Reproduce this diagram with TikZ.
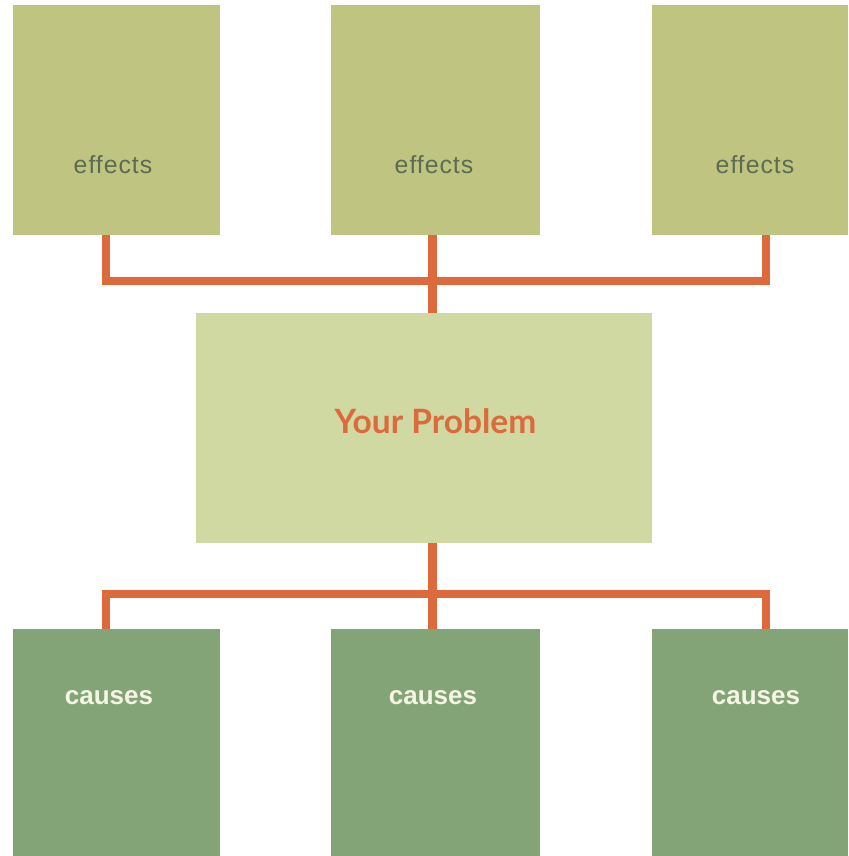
\documentclass[tikz,border=0pt]{standalone}
\usepackage{fontspec}
\setmainfont{Liberation Sans}
\newfontfamily\effectsfont[LetterSpace=4]{Liberation Sans}
\newfontfamily\probfont{Lato}
\definecolor{effectfill}{HTML}{BFC580}
\definecolor{problemfill}{HTML}{D0D9A1}
\definecolor{causefill}{HTML}{83A476}
\definecolor{linkorange}{HTML}{DC6A3C}
\definecolor{effecttext}{HTML}{5C6B52}
\definecolor{causetext}{HTML}{F6F4E4}
\begin{document}
\begin{tikzpicture}[x=1pt,y=-1pt,
  box/.style={rectangle, inner sep=0pt, outer sep=0pt, draw=none},
  effectbox/.style={box, fill=effectfill, minimum height=230pt},
  causebox/.style={box, fill=causefill, minimum height=227pt},
  problembox/.style={box, fill=problemfill, minimum width=456pt, minimum height=230pt},
  effectlabel/.style={inner sep=0pt, text=effecttext, font=\effectsfont\fontsize{24.8}{28}\selectfont},
  causelabel/.style={inner sep=0pt, text=causetext, font=\bfseries\fontsize{26}{30}\selectfont},
  problemlabel/.style={inner sep=0pt, text=linkorange, font=\probfont\bfseries\fontsize{33.5}{38}\selectfont},
  link/.style={draw=linkorange, line width=8.5pt, line join=miter, line cap=butt}]
\useasboundingbox (0,0) rectangle (848,856);

% effects row
\node[effectbox, minimum width=207pt] (e1) at (116.5,120) {};
\node[effectbox, minimum width=209pt] (e2) at (435.5,120) {};
\node[effectbox, minimum width=196pt] (e3) at (750,120) {};
\node[effectlabel] (e1t) at (113,165) {effects};
\node[effectlabel] (e2t) at (434,165) {effects};
\node[effectlabel] (e3t) at (755,165) {effects};

% central problem
\node[problembox] (prob) at (424,428) {};
\node[problemlabel] (probt) at (435.5,421) {Your Problem};

% causes row
\node[causebox, minimum width=207pt] (c1) at (116.5,742.5) {};
\node[causebox, minimum width=209pt] (c2) at (435.5,742.5) {};
\node[causebox, minimum width=196pt] (c3) at (750,742.5) {};
\node[causelabel] (c1t) at (109,698) {causes};
\node[causelabel] (c2t) at (433,698) {causes};
\node[causelabel] (c3t) at (756,698) {causes};

% connector buses
\coordinate (busT) at (432.5,281);
\coordinate (busB) at (432.5,594);

\draw[link] ([xshift=-10.5pt]e1.south) |- (busT) -| ([xshift=16pt]e3.south);
\draw[link] ([xshift=-3pt]e2.south) -- ([xshift=-3pt]e2.south |- prob.north);

\draw[link] ([xshift=-10.5pt]c1.north) |- (busB) -| ([xshift=16pt]c3.north);
\draw[link] ([xshift=-3pt]c2.north) -- ([xshift=-3pt]c2.north |- prob.south);
\end{tikzpicture}
\end{document}
